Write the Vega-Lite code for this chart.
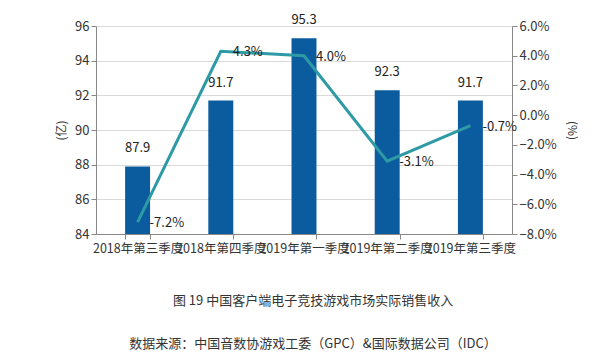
{
  "$schema": "https://vega.github.io/schema/vega-lite/v6.json",
  "width": 416,
  "height": 208,
  "autosize": {"type": "none"},
  "padding": {"left": 96, "top": 26, "right": 100, "bottom": 125},
  "background": "white",
  "config": {
    "font": "Noto Sans CJK SC",
    "view": {"stroke": null},
    "axis": {"labelFont": "Noto Sans CJK SC", "titleFont": "Noto Sans CJK SC"}
  },
  "title": {
    "text": "图 19 中国客户端电子竞技游戏市场实际销售收入",
    "subtitle": "数据来源：中国音数协游戏工委（GPC）&国际数据公司（IDC）",
    "orient": "bottom",
    "anchor": "middle",
    "offset": 40,
    "dx": 9,
    "fontSize": 13,
    "fontWeight": "normal",
    "color": "#333333",
    "subtitleFontSize": 13,
    "subtitleColor": "#333333",
    "subtitlePadding": 30,
    "font": "Noto Sans CJK SC",
    "subtitleFont": "Noto Sans CJK SC"
  },
  "data": {
    "values": [
      {"q": "2018年第三季度", "rev": 87.9, "g": -0.072, "gl": "-7.2%"},
      {"q": "2018年第四季度", "rev": 91.7, "g": 0.043, "gl": "4.3%"},
      {"q": "2019年第一季度", "rev": 95.3, "g": 0.040, "gl": "4.0%"},
      {"q": "2019年第二季度", "rev": 92.3, "g": -0.031, "gl": "-3.1%"},
      {"q": "2019年第三季度", "rev": 91.7, "g": -0.007, "gl": "-0.7%"}
    ]
  },
  "encoding": {
    "x": {
      "field": "q",
      "type": "nominal",
      "sort": null,
      "scale": {"paddingInner": 0.7, "paddingOuter": 0.35},
      "axis": {
        "title": null,
        "labelAngle": 0,
        "labelFontSize": 12.5,
        "labelColor": "#333333",
        "labelOverlap": false,
        "labelBound": false,
        "labelPadding": 3,
        "tickBand": "extent",
        "domainColor": "#888888",
        "tickColor": "#888888",
        "tickSize": 5
      }
    }
  },
  "layer": [
    {
      "encoding": {
        "y": {
          "field": "rev",
          "type": "quantitative",
          "scale": {"domain": [84, 96], "zero": false, "nice": false},
          "axis": {
            "title": "(亿)",
            "titleFontSize": 12,
            "titleFontWeight": "normal",
            "titleColor": "#333333",
            "titlePadding": 6,
            "values": [84, 86, 88, 90, 92, 94, 96],
            "labelFontSize": 13,
            "labelColor": "#333333",
            "domainColor": "#888888",
            "tickColor": "#888888",
            "tickSize": 5,
            "gridColor": "#d9d9d9",
            "grid": true
          }
        }
      },
      "layer": [
        {
          "mark": {"type": "bar", "color": "#0b5c9e"},
          "encoding": {"y2": {"datum": 84}}
        },
        {
          "mark": {"type": "text", "dy": -18, "fontSize": 13, "color": "#222222", "font": "Noto Sans CJK SC"},
          "encoding": {"text": {"field": "rev", "type": "quantitative", "format": ".1f"}}
        }
      ]
    },
    {
      "encoding": {
        "y": {
          "field": "g",
          "type": "quantitative",
          "scale": {"domain": [-0.08, 0.06], "nice": false, "zero": false},
          "axis": {
            "orient": "right",
            "title": "(%)",
            "titleFontSize": 12,
            "titleFontWeight": "normal",
            "titleColor": "#333333",
            "titlePadding": 8,
            "values": [-0.08, -0.06, -0.04, -0.02, 0, 0.02, 0.04, 0.06],
            "format": ".1%",
            "labelFontSize": 13,
            "labelColor": "#333333",
            "domainColor": "#888888",
            "tickColor": "#888888",
            "tickSize": 5,
            "grid": false
          }
        }
      },
      "layer": [
        {
          "mark": {"type": "line", "color": "#2e9aa6", "strokeWidth": 3},
          "encoding": {}
        },
        {
          "mark": {"type": "text", "align": "left", "dx": 12, "dy": 1, "fontSize": 13, "color": "#222222", "font": "Noto Sans CJK SC"},
          "encoding": {"text": {"field": "gl", "type": "nominal"}}
        }
      ]
    }
  ],
  "resolve": {"scale": {"y": "independent"}}
}
